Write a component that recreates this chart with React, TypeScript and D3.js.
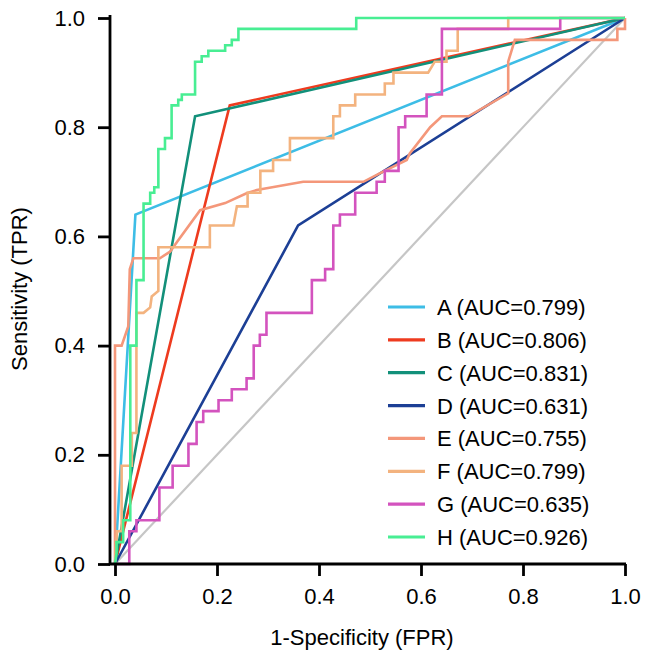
import { useEffect, useRef } from 'react'
import * as d3 from 'd3'

const names = ['A', 'B', 'C', 'D', 'E', 'F', 'G', 'H']
const aucs = ['0.799', '0.806', '0.831', '0.631', '0.755', '0.799', '0.635', '0.926']
const colors = ['#3DBDE6', '#EE3B1F', '#12907A', '#1C3F95', '#F4977A', '#F3B37F', '#D353BE', '#48EE93']
const ticks = [0, 0.2, 0.4, 0.6, 0.8, 1.0]

// [FPR, TPR] points
const rocA = [[0, 0], [0.04, 0.64], [1, 1]]
const rocB = [[0, 0], [0.225, 0.84], [1, 1]]
const rocC = [[0, 0], [0.157, 0.82], [1, 1]]
const rocD = [[0, 0], [0.359, 0.62], [1, 1]]
const rocE = [
  [0, 0], [0, 0.40], [0.013, 0.40], [0.026, 0.435], [0.029, 0.54], [0.036, 0.56], [0.088, 0.56],
  [0.108, 0.572], [0.124, 0.593], [0.167, 0.648], [0.216, 0.661], [0.258, 0.679], [0.278, 0.685],
  [0.369, 0.70], [0.487, 0.70], [0.52, 0.716], [0.572, 0.74], [0.578, 0.752], [0.618, 0.80],
  [0.641, 0.82], [0.693, 0.82], [0.771, 0.862], [0.771, 0.92], [0.784, 0.96], [0.985, 0.96],
  [0.985, 0.98], [1, 0.98], [1, 1],
]
const rocF = [
  [0, 0], [0.004, 0.06], [0.013, 0.06], [0.013, 0.18], [0.033, 0.18], [0.033, 0.24], [0.042, 0.24],
  [0.042, 0.46], [0.056, 0.46], [0.069, 0.47], [0.072, 0.49], [0.085, 0.50], [0.085, 0.58],
  [0.186, 0.58], [0.186, 0.62], [0.232, 0.62], [0.239, 0.655], [0.26, 0.655], [0.26, 0.68],
  [0.285, 0.68], [0.285, 0.72], [0.31, 0.72], [0.31, 0.74], [0.343, 0.74], [0.343, 0.78],
  [0.428, 0.78], [0.428, 0.82], [0.441, 0.82], [0.441, 0.84], [0.471, 0.84], [0.471, 0.86],
  [0.529, 0.86], [0.529, 0.88], [0.546, 0.88], [0.546, 0.90], [0.614, 0.90], [0.627, 0.92],
  [0.65, 0.92], [0.65, 0.94], [0.672, 0.94], [0.672, 0.98], [0.771, 0.98], [0.771, 1], [1, 1],
]
const rocG = [
  [0, 0], [0.028, 0], [0.028, 0.06], [0.042, 0.06], [0.042, 0.08], [0.087, 0.08], [0.087, 0.14],
  [0.113, 0.14], [0.113, 0.18], [0.144, 0.18], [0.144, 0.22], [0.16, 0.22], [0.16, 0.26],
  [0.173, 0.26], [0.173, 0.28], [0.203, 0.28], [0.203, 0.30], [0.229, 0.30], [0.229, 0.32],
  [0.258, 0.32], [0.258, 0.34], [0.272, 0.34], [0.272, 0.40], [0.284, 0.40], [0.284, 0.42],
  [0.297, 0.42], [0.297, 0.46], [0.386, 0.46], [0.386, 0.52], [0.412, 0.52], [0.412, 0.54],
  [0.428, 0.54], [0.428, 0.62], [0.441, 0.62], [0.441, 0.64], [0.471, 0.64], [0.471, 0.68],
  [0.513, 0.68], [0.513, 0.70], [0.529, 0.70], [0.529, 0.72], [0.556, 0.72], [0.556, 0.80],
  [0.569, 0.80], [0.569, 0.82], [0.611, 0.82], [0.611, 0.86], [0.641, 0.86], [0.641, 0.98],
  [0.873, 0.98], [0.873, 1], [1, 1],
]
const rocH = [
  [0, 0], [0.003, 0.02], [0.003, 0.04], [0.016, 0.04], [0.016, 0.08], [0.03, 0.08], [0.03, 0.40],
  [0.042, 0.40], [0.042, 0.52], [0.056, 0.52], [0.056, 0.66], [0.069, 0.66], [0.069, 0.68],
  [0.077, 0.68], [0.077, 0.69], [0.085, 0.69], [0.085, 0.76], [0.098, 0.76], [0.098, 0.78],
  [0.111, 0.78], [0.111, 0.84], [0.124, 0.84], [0.124, 0.85], [0.131, 0.85], [0.131, 0.86],
  [0.157, 0.86], [0.157, 0.92], [0.17, 0.92], [0.17, 0.93], [0.183, 0.93], [0.183, 0.94],
  [0.216, 0.94], [0.216, 0.95], [0.229, 0.95], [0.229, 0.96], [0.242, 0.96], [0.242, 0.98],
  [0.473, 0.98], [0.473, 1], [1, 1],
]
const curves = [rocA, rocB, rocC, rocD, rocE, rocF, rocG, rocH]

export default function App() {
  const ref = useRef<SVGSVGElement>(null)

  useEffect(() => {
    if (!ref.current) return
    const svg = d3.select(ref.current)
    svg.selectAll('*').remove()

    const font = '"Liberation Sans", Arial, Helvetica, sans-serif'
    const x = d3.scaleLinear().domain([0, 1]).range([115, 625])
    const y = d3.scaleLinear().domain([0, 1]).range([564, 18])

    // reference diagonal
    svg.append('line')
      .attr('x1', x(0)).attr('y1', y(0)).attr('x2', x(1)).attr('y2', y(1))
      .attr('stroke', '#c6c6c6').attr('stroke-width', 2.2)

    const line = d3.line<number[]>().x(d => x(d[0])).y(d => y(d[1]))
    curves.forEach((c, i) => {
      svg.append('path')
        .datum(c)
        .attr('d', line)
        .attr('fill', 'none')
        .attr('stroke', colors[i])
        .attr('stroke-width', 2.6)
        .attr('stroke-linejoin', 'miter')
    })

    // axes
    const gx = svg.append('g').attr('transform', 'translate(0,564)')
      .call(d3.axisBottom(x).tickValues(ticks).tickSize(12).tickSizeOuter(0).tickPadding(12).tickFormat(d3.format('.1f')))
    const gy = svg.append('g').attr('transform', 'translate(110,0)')
      .call(d3.axisLeft(y).tickValues(ticks).tickSize(12).tickSizeOuter(0).tickPadding(13).tickFormat(d3.format('.1f')))
    ;[gx, gy].forEach(g => {
      g.select('.domain').remove()
      g.selectAll('line').attr('stroke', '#000').attr('stroke-width', 2.8)
      g.selectAll('text').attr('fill', '#000').style('font-family', font).style('font-size', '22px')
    })
    gx.selectAll('text').attr('dy', '0.71em')
    svg.append('path')
      .attr('d', `M110,15V564H626`)
      .attr('fill', 'none').attr('stroke', '#000').attr('stroke-width', 2.8)

    // axis titles
    svg.append('text')
      .attr('x', 362).attr('y', 645)
      .attr('text-anchor', 'middle')
      .style('font-family', font).style('font-size', '22px')
      .text('1-Specificity (FPR)')
    svg.append('text')
      .attr('transform', 'translate(27,289) rotate(-90)')
      .attr('text-anchor', 'middle')
      .style('font-family', font).style('font-size', '22px')
      .text('Sensitivity (TPR)')

    // legend
    const lg = svg.append('g')
    names.forEach((n, i) => {
      const ly = 307 + i * 32.86
      lg.append('line')
        .attr('x1', 388).attr('x2', 425).attr('y1', ly).attr('y2', ly)
        .attr('stroke', colors[i]).attr('stroke-width', 3.2)
      lg.append('text')
        .attr('x', 437).attr('y', ly + 8)
        .style('font-family', font).style('font-size', '22px')
        .text(`${n} (AUC=${aucs[i]})`)
    })
  }, [])

  return (
    <svg
      ref={ref}
      width={646}
      height={657}
      style={{ position: 'absolute', left: 0, top: 0, background: '#fff', display: 'block' }}
    />
  )
}
